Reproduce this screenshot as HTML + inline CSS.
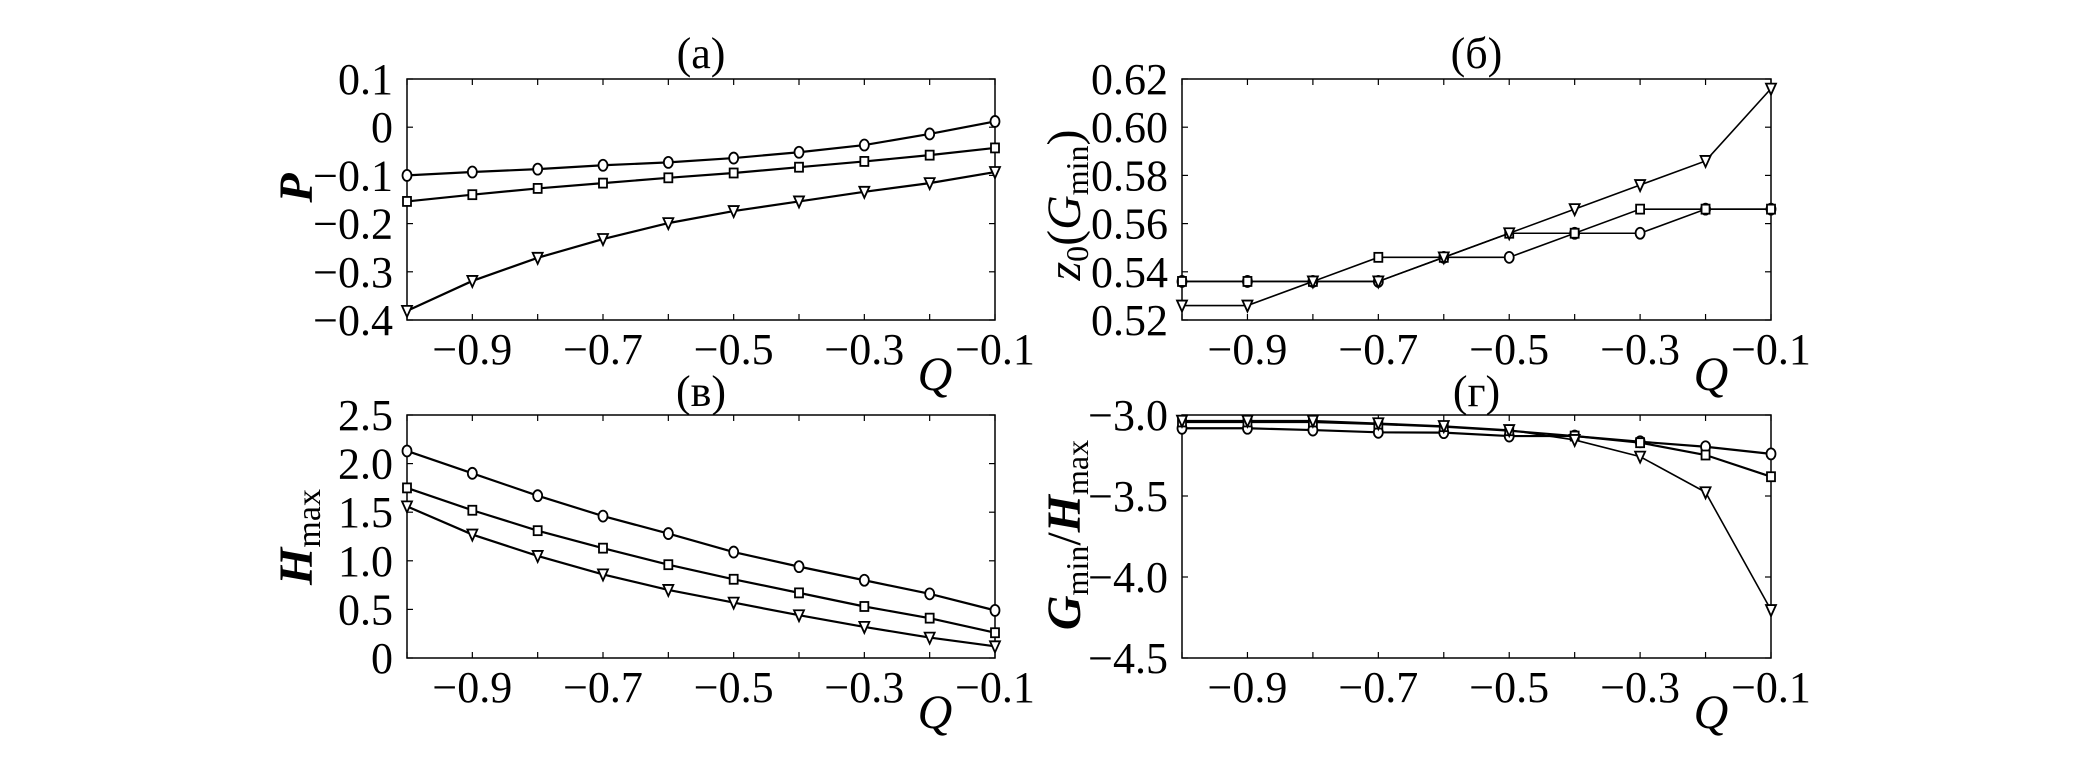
<!DOCTYPE html>
<html><head><meta charset="utf-8"><style>
html,body{margin:0;padding:0;background:#fff}
svg{display:block}
svg text, svg tspan{font-family:"Liberation Serif","DejaVu Serif",serif !important;fill:#000}
</style></head><body>
<svg id="fig" width="2079" height="772" viewBox="0 0 2079 772" font-family="Liberation Serif, DejaVu Serif, serif"></svg>
<script>
const qValues=[-1.0,-0.9,-0.8,-0.7,-0.6,-0.5,-0.4,-0.3,-0.2,-0.1];
const xTickLabels=[-0.9,-0.7,-0.5,-0.3,-0.1];
// (a) P
const pCircle=[-0.100,-0.093,-0.087,-0.079,-0.073,-0.064,-0.052,-0.037,-0.014,0.012];
const pSquare=[-0.154,-0.140,-0.127,-0.116,-0.105,-0.095,-0.083,-0.071,-0.058,-0.043];
const pTriangle=[-0.381,-0.319,-0.271,-0.232,-0.199,-0.174,-0.154,-0.134,-0.116,-0.093];
const pTicks=[0.1,0,-0.1,-0.2,-0.3,-0.4];
const pTickLabels=["0.1","0","\u22120.1","\u22120.2","\u22120.3","\u22120.4"];
// (б) z0(Gmin)
const zCircle=[0.536,0.536,0.536,0.536,0.546,0.546,0.556,0.556,0.566,0.566];
const zSquare=[0.536,0.536,0.536,0.546,0.546,0.556,0.556,0.566,0.566,0.566];
const zTriangle=[0.526,0.526,0.536,0.536,0.546,0.556,0.566,0.576,0.586,0.616];
const zTicks=[0.62,0.60,0.58,0.56,0.54,0.52];
const zTickLabels=["0.62","0.60","0.58","0.56","0.54","0.52"];
// (в) Hmax
const hCircle=[2.13,1.90,1.67,1.46,1.28,1.09,0.94,0.80,0.66,0.49];
const hSquare=[1.75,1.52,1.31,1.13,0.96,0.81,0.67,0.53,0.41,0.26];
const hTriangle=[1.56,1.27,1.05,0.86,0.70,0.57,0.44,0.32,0.21,0.12];
const hTicks=[2.5,2.0,1.5,1.0,0.5,0];
const hTickLabels=["2.5","2.0","1.5","1.0","0.5","0"];
// (г) Gmin/Hmax
const gCircle=[-3.082,-3.082,-3.093,-3.107,-3.109,-3.130,-3.130,-3.165,-3.196,-3.240];
const gSquare=[-3.043,-3.043,-3.043,-3.056,-3.072,-3.097,-3.130,-3.171,-3.247,-3.381];
const gTriangle=[-3.035,-3.035,-3.035,-3.051,-3.068,-3.093,-3.154,-3.257,-3.477,-4.204];
const gTicks=[-3.0,-3.5,-4.0,-4.5];
const gTickLabels=["\u22123.0","\u22123.5","\u22124.0","\u22124.5"];

const NS="http://www.w3.org/2000/svg";
const svg=document.getElementById('fig');
function mk(tag,attrs,parent){const e=document.createElementNS(NS,tag);for(const k in attrs)e.setAttribute(k,attrs[k]);(parent||svg).appendChild(e);return e;}
const FF='Liberation Serif, DejaVu Serif, serif';

function panel(cfg){
  const g=mk('g',{'font-family':FF});
  
  
  const L=cfg.l,R=cfg.r,T=cfg.t,B=cfg.b;
  const xs=v=>L+(v-(-1.0))/0.9*(R-L);
  const ys=v=>T+(cfg.ymax-v)/(cfg.ymax-cfg.ymin)*(B-T);
  const frame=mk('rect',{x:L,y:T,width:R-L,height:B-T,fill:'none',stroke:'#000','stroke-width':1.5},g);
  
  
  qValues.forEach(q=>{
    const x=xs(q);
    mk('line',{x1:x,y1:B,x2:x,y2:B-6,stroke:'#000','stroke-width':1.2},g);
    mk('line',{x1:x,y1:T,x2:x,y2:T+6,stroke:'#000','stroke-width':1.2},g);
  });
  xTickLabels.forEach(q=>{
    const t=mk('text',{x:xs(q),y:B+44,'text-anchor':'middle','font-size':44,'font-family':FF},g);
    t.textContent='\u2212'+Math.abs(q).toFixed(1);
    
    
  });
  cfg.ticks.forEach((v,i)=>{
    const y=ys(v);
    mk('line',{x1:L,y1:y,x2:L+6,y2:y,stroke:'#000','stroke-width':1.2},g);
    mk('line',{x1:R,y1:y,x2:R-6,y2:y,stroke:'#000','stroke-width':1.2},g);
    const t=mk('text',{x:L-14,y:y+15,'text-anchor':'end','font-size':44,'font-family':FF},g);
    t.textContent=cfg.tickLabels[i];
    
    
  });
  cfg.series.forEach(s=>{
    const pts=s.data.map((v,i)=>xs(qValues[i])+','+ys(v)).join(' ');
    const pl=mk('polyline',{points:pts,fill:'none',stroke:'#000','stroke-width':s.w||2.2},g);
    
    
    s.data.forEach((v,i)=>{
      const x=xs(qValues[i]),y=ys(v);let m;
      if(s.marker==='circle')m=mk('ellipse',{cx:x,cy:y,rx:4.5,ry:5.5,fill:'#fff',stroke:'#000','stroke-width':1.8},g);
      else if(s.marker==='square')m=mk('rect',{x:x-4,y:y-4.5,width:8,height:9,fill:'#fff',stroke:'#000','stroke-width':1.8},g);
      else m=mk('polygon',{points:(x-5)+','+(y-5)+' '+(x+5)+','+(y-5)+' '+x+','+(y+6),fill:'#fff',stroke:'#000','stroke-width':1.8},g);
      
      
    });
  });
  const tt=mk('text',{x:(L+R)/2,y:cfg.titleY,'text-anchor':'middle','font-size':44,'font-family':FF},g);
  tt.textContent=cfg.title;
  
  
  const q=mk('text',{x:R-60,y:B+70,'text-anchor':'middle','font-size':48,'font-style':'italic','font-family':FF},g);
  q.textContent='Q';
  
  
  const yl=mk('text',{x:0,y:0,'text-anchor':'middle','font-size':48,'font-family':FF,transform:'translate('+cfg.ylx+','+cfg.yly+') rotate(-90)'},g);
  yl.innerHTML=cfg.ylabel;
  
  
}

panel({name:'panel-a-P',l:407,r:995,t:79,b:320,ymin:-0.4,ymax:0.1,ticks:pTicks,tickLabels:pTickLabels,title:'(a)',titleY:68,ylx:312,yly:188,
  ylabel:'<tspan font-style="italic" font-weight="bold">P</tspan>',
  series:[{name:'p-circle',data:pCircle,marker:'circle'},{name:'p-square',data:pSquare,marker:'square'},{name:'p-triangle',data:pTriangle,marker:'triangle'}]});
panel({name:'panel-b-z0',l:1182,r:1771,t:79,b:320,ymin:0.52,ymax:0.62,ticks:zTicks,tickLabels:zTickLabels,title:'(б)',titleY:68,ylx:1080,yly:205,
  ylabel:'<tspan font-style="italic">z</tspan><tspan font-size="32" dy="8">0</tspan><tspan dy="-8">(</tspan><tspan font-style="italic">G</tspan><tspan font-size="32" dy="8">min</tspan><tspan dy="-8">)</tspan>',
  series:[{name:'z-circle',data:zCircle,marker:'circle',w:1.6},{name:'z-square',data:zSquare,marker:'square',w:1.6},{name:'z-triangle',data:zTriangle,marker:'triangle',w:1.6}]});
panel({name:'panel-c-Hmax',l:407,r:995,t:415,b:658,ymin:0,ymax:2.5,ticks:hTicks,tickLabels:hTickLabels,title:'(в)',titleY:406,ylx:312,yly:537,
  ylabel:'<tspan font-style="italic" font-weight="bold">H</tspan><tspan font-size="34" dy="8">max</tspan>',
  series:[{name:'h-circle',data:hCircle,marker:'circle'},{name:'h-square',data:hSquare,marker:'square'},{name:'h-triangle',data:hTriangle,marker:'triangle'}]});
panel({name:'panel-d-ratio',l:1182,r:1771,t:415,b:658,ymin:-4.5,ymax:-3.0,ticks:gTicks,tickLabels:gTickLabels,title:'(г)',titleY:406,ylx:1080,yly:535,
  ylabel:'<tspan font-style="italic" font-weight="bold">G</tspan><tspan font-size="32" dy="8">min</tspan><tspan dy="-8">/</tspan><tspan font-style="italic" font-weight="bold">H</tspan><tspan font-size="32" dy="8">max</tspan>',
  series:[{name:'g-circle',data:gCircle,marker:'circle'},{name:'g-square',data:gSquare,marker:'square'},{name:'g-triangle',data:gTriangle,marker:'triangle',w:1.6}]});
</script>
</body></html>
